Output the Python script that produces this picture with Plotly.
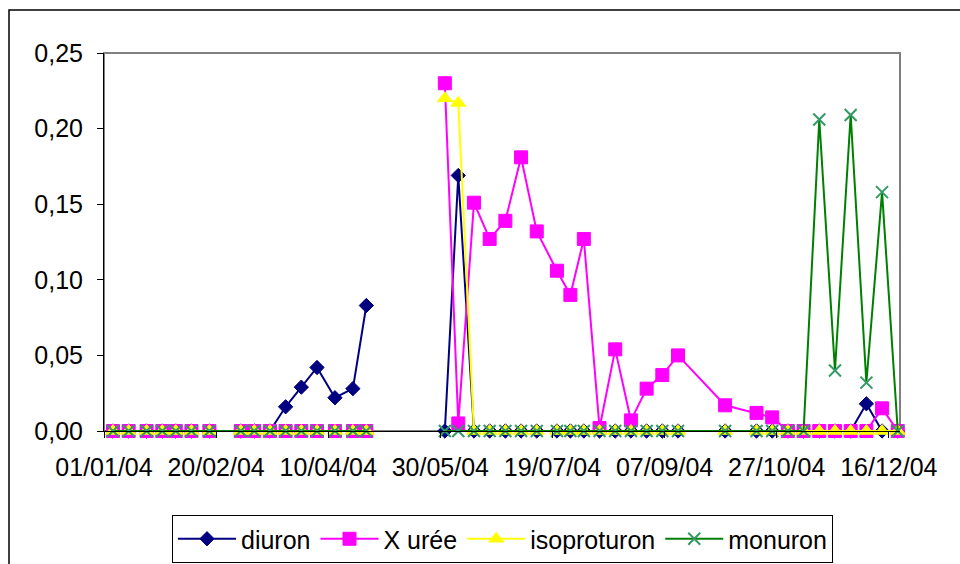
import plotly.graph_objects as go

# Sampling dates (2004); a None row marks the break in sampling between late April and June
dates = [
    "2004-01-05", "2004-01-12", "2004-01-20", "2004-01-27", "2004-02-02", "2004-02-09",
    "2004-02-17", "2004-03-02", "2004-03-08", "2004-03-15", "2004-03-22", "2004-03-29",
    "2004-04-05", "2004-04-13", "2004-04-21", "2004-04-27",
    "2004-05-15",
    "2004-06-01", "2004-06-07", "2004-06-14", "2004-06-21", "2004-06-28", "2004-07-05",
    "2004-07-12", "2004-07-21", "2004-07-27", "2004-08-02", "2004-08-09", "2004-08-16",
    "2004-08-23", "2004-08-30", "2004-09-06", "2004-09-13", "2004-10-04", "2004-10-18",
    "2004-10-25", "2004-11-01", "2004-11-08", "2004-11-15", "2004-11-22", "2004-11-29",
    "2004-12-06", "2004-12-13", "2004-12-20",
]

diuron = [
    0, 0, 0, 0, 0, 0,
    0, 0, 0, 0, 0.016, 0.029,
    0.042, 0.022, 0.028, 0.083,
    None,
    0, 0.169, 0, 0, 0, 0,
    0, 0, 0, 0, 0, 0,
    0, 0, 0, 0, 0, 0,
    0, 0, 0, 0, 0, 0,
    0.018, 0, 0,
]

x_uree = [
    0, 0, 0, 0, 0, 0,
    0, 0, 0, 0, 0, 0,
    0, 0, 0, 0,
    None,
    0.230, 0.005, 0.151, 0.127, 0.139, 0.181,
    0.132, 0.106, 0.090, 0.127, 0.002, 0.054,
    0.007, 0.028, 0.037, 0.050, 0.017, 0.012,
    0.009, 0, 0, 0, 0, 0,
    0, 0.015, 0,
]

isoproturon = [
    0, 0, 0, 0, 0, 0,
    0, 0, 0, 0, 0, 0,
    0, 0, 0, 0,
    None,
    0.220, 0.217, 0, 0, 0, 0,
    0, 0, 0, 0, 0, 0,
    0, 0, 0, 0, 0, 0,
    0, 0, 0, 0, 0, 0,
    0, 0, 0,
]

monuron = [
    0, 0, 0, 0, 0, 0,
    0, 0, 0, 0, 0, 0,
    0, 0, 0, 0,
    None,
    0, 0, 0, 0, 0, 0,
    0, 0, 0, 0, 0, 0,
    0, 0, 0, 0, 0, 0,
    0, 0, 0, 0.206, 0.040, 0.209,
    0.032, 0.158, 0,
]

y_ticks = [0, 0.05, 0.10, 0.15, 0.20, 0.25]

FONT = "Liberation Sans, Arial, sans-serif"
FONT_SIZE = 25

# plot-area geometry in pixels
W, H = 960, 564
L, R, T, B = 104, 900, 53, 431
PW, PH = R - L, B - T


def px_x(p):
    return (p - L) / PW


def px_y(p):
    return (B - p) / PH


fig = go.Figure()

series = [
    ("diuron", diuron, "#000080", dict(symbol="diamond", size=11, color="#000080",
                                      line=dict(color="#000080", width=1))),
    ("X urée", x_uree, "#FF00FF", dict(symbol="square", size=13, color="#FF00FF",
                                       line=dict(color="#FF00FF", width=1))),
    ("isoproturon", isoproturon, "#FFFF00", dict(symbol="triangle-up", size=13, color="#FFFF00",
                                                 line=dict(color="#FFFF00", width=1))),
    ("monuron", monuron, "#008000", dict(symbol="x-thin-open", size=12, color="#339966",
                                         line=dict(color="#339966", width=2))),
]

for name, vals, lc, mk in series:
    fig.add_trace(go.Scatter(
        x=dates, y=vals, name=name, mode="lines+markers",
        line=dict(color=lc, width=2), marker=mk,
        connectgaps=False, cliponaxis=False,
    ))

axis_common = dict(
    showline=True, linecolor="black", linewidth=1,
    ticks="outside", ticklen=6, tickcolor="black", tickwidth=1,
    showgrid=False, zeroline=False, automargin=False,
    tickfont=dict(family=FONT, size=FONT_SIZE, color="black"),
)

fig.update_xaxes(
    type="date", range=["2004-01-01", "2004-12-21"],
    tick0="2004-01-01", dtick=50 * 86400000, tickformat="%d/%m/%y",
    tickangle=0, ticklabelstandoff=8,
    **axis_common,
)
fig.update_yaxes(
    range=[0, 0.25], tickvals=y_ticks, tickformat=".2f",
    ticklabelstandoff=9,
    **axis_common,
)

# gray frame round the plot area, and the outer chart frame
fig.add_shape(type="rect", xref="paper", yref="paper", x0=0, y0=0, x1=1, y1=1,
              line=dict(color="#808080", width=2), layer="below")
fig.add_shape(type="rect", xref="paper", yref="paper",
              x0=px_x(9), y0=px_y(590), x1=px_x(980), y1=px_y(10),
              line=dict(color="black", width=1.5), layer="below")

fig.update_layout(
    width=W, height=H,
    margin=dict(l=L, r=W - R, t=T, b=H - B, autoexpand=False),
    paper_bgcolor="white", plot_bgcolor="white",
    separators=", ",
    font=dict(family=FONT, color="black"),
    showlegend=True,
    legend=dict(
        orientation="h", xref="container", yref="container",
        x=172 / W, y=1 - 515 / H, xanchor="left", yanchor="top",
        bordercolor="black", borderwidth=1, bgcolor="white",
        font=dict(family=FONT, size=FONT_SIZE, color="black"),
        itemwidth=58, tracegroupgap=0,
    ),
)

fig.write_html("out.html")
